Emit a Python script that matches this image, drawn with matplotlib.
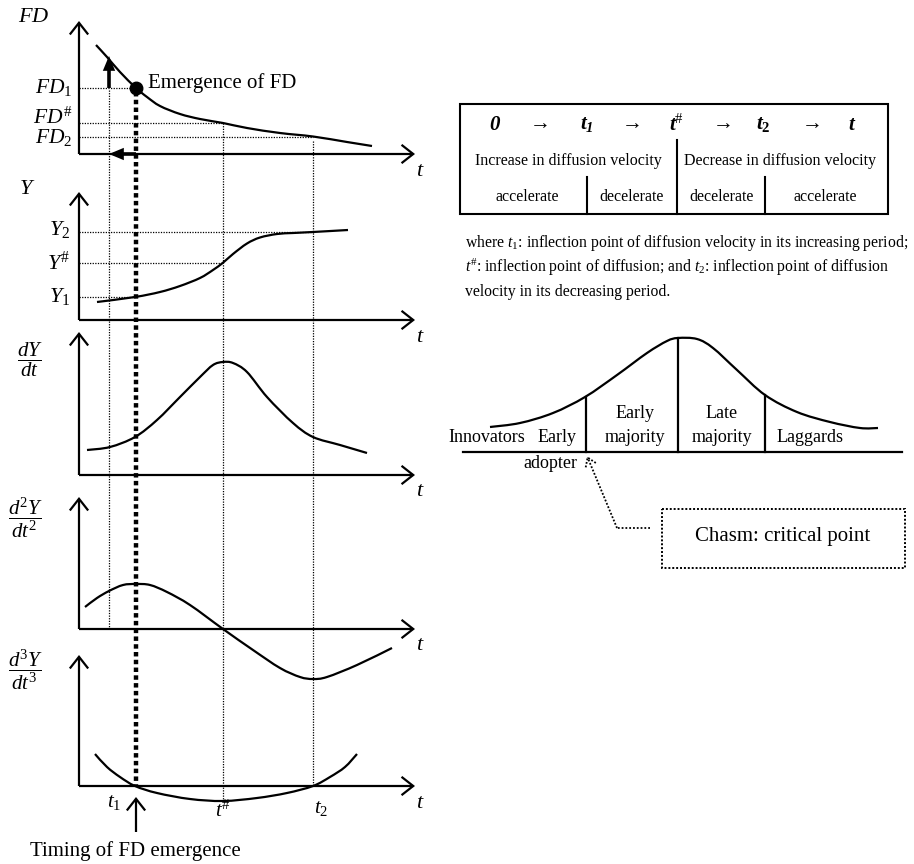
import numpy as np
import matplotlib.pyplot as plt
from matplotlib.patches import FancyArrowPatch, Rectangle, PathPatch
from matplotlib.path import Path

plt.rcParams['font.family'] = ['Liberation Serif', 'DejaVu Serif']
plt.rcParams['mathtext.fontset'] = 'custom'
plt.rcParams['mathtext.rm'] = 'Liberation Serif'
plt.rcParams['mathtext.it'] = 'Liberation Serif:italic'
plt.rcParams['mathtext.bf'] = 'Liberation Serif:bold'
plt.rcParams['mathtext.bfit'] = 'Liberation Serif:bold:italic'

# characteristic times on the common t scale
t_fd = 3.0      # where FD1 is reached
t_1 = 5.7       # inflection of velocity, increasing period
t_s = 14.4      # inflection of diffusion (t#)
t_2 = 23.4      # inflection of velocity, decreasing period
t_max = 33.6

# FD curve
fd_t = [1.7, 2.8, 4.1, 5.7, 6.8, 8.1, 10.1, 12.1, 14.4, 16.8, 20.1, 23.4, 26.8, 29.3]
fd_v = [10.9, 9.7, 8.2, 6.6, 5.7, 4.8, 4.0, 3.5, 3.1, 2.6, 2.1, 1.75, 1.2, 0.8]
fd_levels = {'FD1': 6.6, 'FDs': 3.1, 'FD2': 1.75}

# diffusion Y
y_t = [1.8, 5.6, 8.1, 10.1, 12.1, 13.4, 14.4, 15.4, 16.8, 18.1, 19.8, 21.4, 23.4, 26.9]
y_v = [1.8, 2.3, 2.8, 3.4, 4.2, 5.0, 5.73, 6.6, 7.65, 8.25, 8.6, 8.7, 8.8, 9.0]
y_levels = {'Y1': 2.3, 'Ys': 5.73, 'Y2': 8.8}

# dY/dt
dy_t = [0.8, 3.1, 5.6, 7.8, 10.1, 12.1, 13.4, 14.4, 15.4, 16.8, 18.8, 21.4, 23.4, 26.1, 28.8]
dy_v = [2.5, 2.8, 3.8, 5.5, 7.8, 9.8, 11.0, 11.3, 11.2, 10.3, 7.8, 5.2, 3.8, 3.0, 2.2]

# d2Y/dt2
d2_t = [0.6, 1.8, 3.0, 4.4, 5.7, 7.1, 8.8, 11.1, 14.4, 17.4, 20.1, 22.1, 23.4, 24.8, 27.8, 31.3]
d2_v = [2.2, 3.1, 3.8, 4.4, 4.5, 4.4, 3.7, 2.4, 0.0, -2.1, -3.9, -4.8, -5.0, -4.8, -3.6, -1.9]

# d3Y/dt3
d3_t = [1.6, 2.8, 4.1, 5.6, 7.8, 11.1, 14.4, 17.8, 20.8, 23.4, 25.1, 26.6, 27.8]
d3_v = [3.2, 1.9, 0.9, 0.0, -0.7, -1.3, -1.5, -1.2, -0.7, 0.0, 0.9, 1.9, 3.2]

# adopter distribution (bell curve)
bell_u = [2.7, 5.7, 9.0, 12.2, 15.4, 18.4, 20.4, 21.5, 23.4, 25.0, 27.4, 30.2, 33.4, 36.7, 39.7, 41.5]
bell_h = [2.5, 2.9, 3.9, 5.5, 7.7, 9.9, 11.1, 11.4, 11.3, 10.4, 8.2, 5.7, 4.0, 3.0, 2.4, 2.4]
bell_cuts = [12.3, 21.5, 30.2]
bell_cut_h = [5.5, 11.4, 5.7]

# panel layout (pixels)
X0 = 79
SC = 10
bases = [154, 320, 475, 629, 786]
tops = [21, 192, 332, 497, 655]

fig = plt.figure(figsize=(9.14, 8.64), dpi=100)
ax = fig.add_axes([0, 0, 1, 1])
ax.set_xlim(0, 914)
ax.set_ylim(864, 0)
ax.axis('off')


def px(t):
    return X0 + SC * np.asarray(t, dtype=float)


def py(v, k):
    return bases[k] - SC * np.asarray(v, dtype=float)


def smooth_curve(xs, ys, lw=1.6):
    # Catmull-Rom through the points, drawn as cubic Bezier segments
    p = np.column_stack([xs, ys])
    n = len(p)
    verts = [p[0]]
    codes = [Path.MOVETO]
    for i in range(n - 1):
        p0, p1 = p[max(i - 1, 0)], p[i]
        p2, p3 = p[i + 1], p[min(i + 2, n - 1)]
        verts += [p1 + (p2 - p0) / 6, p2 - (p3 - p1) / 6, p2]
        codes += [Path.CURVE4] * 3
    ax.add_patch(PathPatch(Path(verts, codes), fill=False, lw=lw, ec='k',
                           joinstyle='round', capstyle='butt'))


def arrow(p0, p1, style='->,head_length=0.7,head_width=0.55', lw=1.6, ms=12, ls='-'):
    a = FancyArrowPatch(p0, p1, arrowstyle=style, mutation_scale=ms, lw=lw,
                        color='k', shrinkA=0, shrinkB=0, linestyle=ls,
                        joinstyle='miter', capstyle='butt')
    ax.add_patch(a)


def dotted(xs, ys, lw=0.9):
    ax.plot(xs, ys, color='k', lw=lw, ls=(0, (1, 1.1)))


# axes for the five panels
for k in range(5):
    arrow((X0, bases[k]), (X0, tops[k]))
    arrow((X0, bases[k]), (px(t_max), bases[k]))

# guide lines to the level labels
dotted([X0, px(t_1)], [py(fd_levels['FD1'], 0)] * 2)
dotted([X0, px(t_s)], [py(fd_levels['FDs'], 0)] * 2)
dotted([X0, px(t_2)], [py(fd_levels['FD2'], 0)] * 2)
dotted([X0, px(t_1)], [py(y_levels['Y1'], 1)] * 2)
dotted([X0, px(t_s)], [py(y_levels['Ys'], 1)] * 2)
dotted([X0, px(t_2)], [py(y_levels['Y2'], 1)] * 2)

# vertical guides across panels
dotted([px(t_fd)] * 2, [py(fd_levels['FD1'], 0) + 2, bases[3]])
dotted([px(t_s)] * 2, [py(fd_levels['FDs'], 0), py(-1.5, 4)])
dotted([px(t_2)] * 2, [py(fd_levels['FD2'], 0) + 4, bases[4]])
ax.plot([px(t_1)] * 2, [py(fd_levels['FD1'], 0) + 4, bases[4]], color='k',
        lw=3.2, ls=(0, (1, 0.75)))

# curves
smooth_curve(px(fd_t), py(fd_v, 0))
smooth_curve(px(y_t), py(y_v, 1))
smooth_curve(px(dy_t), py(dy_v, 2))
smooth_curve(px(d2_t), py(d2_v, 3))
smooth_curve(px(d3_t), py(d3_v, 4))

# emergence of FD
ax.plot(px(t_1), py(fd_levels['FD1'], 0), 'o', color='k', ms=9)
ax.text(px(t_1) + 12, py(fd_levels['FD1'], 0), 'Emergence of FD', fontsize=15,
        ha='left', va='baseline')
arrow((px(t_fd), py(fd_levels['FD1'], 0)), (px(t_fd), py(9.8, 0)),
      style='-|>,head_length=0.6,head_width=0.25', lw=2.6, ms=10)
arrow((px(t_1), bases[0]), (px(t_fd), bases[0]),
      style='-|>,head_length=0.6,head_width=0.25', lw=2.6, ms=10)

# axis titles
ax.text(18, 17, '$FD$', fontsize=16, ha='left', va='center')
ax.text(19, 190, '$Y$', fontsize=16, ha='left', va='center')
ax.text(30, 360, r'$\dfrac{dY}{dt}$', fontsize=15, ha='center', va='center')
ax.text(26, 518, r'$\dfrac{d^2Y}{dt^2}$', fontsize=15, ha='center', va='center')
ax.text(26, 670, r'$\dfrac{d^3Y}{dt^3}$', fontsize=15, ha='center', va='center')
for k in range(5):
    ax.text(px(t_max) + 5, bases[k] + 17, '$t$', fontsize=16, ha='center', va='center')

# level labels
ax.text(72, 93, '$FD_1$', fontsize=15.5, ha='right', va='baseline')
ax.text(72, 124, r'$FD^{\#}$', fontsize=15.5, ha='right', va='baseline')
ax.text(72, 143, '$FD_2$', fontsize=15.5, ha='right', va='baseline')
ax.text(70, 235, '$Y_2$', fontsize=16, ha='right', va='baseline')
ax.text(70, 270, r'$Y^{\#}$', fontsize=16, ha='right', va='baseline')
ax.text(70, 302, '$Y_1$', fontsize=16, ha='right', va='baseline')

# time labels under the last panel
ax.text(px(t_1) - 22, 803, r'$t_{\mathrm{1}}$', fontsize=15, ha='center', va='center')
ax.text(px(t_s), 811, r'$t^{\#}$', fontsize=15, ha='center', va='center')
ax.text(px(t_2) + 8, 808, '$t_2$', fontsize=15, ha='center', va='center')
arrow((px(t_1), 832), (px(t_1), 797))
ax.text(30, 851, 'Timing of FD emergence', fontsize=15, ha='left', va='center')

# phase table
ax.add_patch(Rectangle((460, 104), 428, 110, fill=False, lw=1.5, ec='k'))
ax.plot([677, 677], [140, 214], color='k', lw=1.5)
ax.plot([587, 587], [177, 214], color='k', lw=1.5)
ax.plot([765, 765], [177, 214], color='k', lw=1.5)
head = [(495, r'$\mathbfit{0}$'), (540, '→'), (587, r'$\mathbfit{t}_{\mathbfit{1}}$'),
        (632, '→'), (677, r'$\mathbfit{t}^{\#}$'), (723, '→'),
        (763, r'$\mathbfit{t}_{\mathbf{2}}$'), (812, '→'), (852, r'$\mathbfit{t}$')]
for hx, s in head:
    ax.text(hx, 125, s, fontsize=15, ha='center', va='center')
ax.text(568, 161, 'Increase in diffusion velocity', fontsize=11.5, ha='center', va='center')
ax.text(780, 161, 'Decrease in diffusion velocity', fontsize=11.5, ha='center', va='center')
for cx, s in [(527, 'accelerate'), (632, 'decelerate'), (722, 'decelerate'), (825, 'accelerate')]:
    ax.text(cx, 197, s, fontsize=11.5, ha='center', va='center')

notes = ['where $t_1$: inflection point of diffusion velocity in its increasing period;',
         r'$t^{\#}$: inflection point of diffusion; and $t_2$: inflection point of diffusion',
         'velocity in its decreasing period.']
for i, s in enumerate(notes):
    ax.text(465, 243 + 24.5 * i, s, fontsize=11.3, ha='left', va='center')

# adopter categories
BX, BY = 463, 452
ax.plot([BX, 902], [BY, BY], color='k', lw=1.6)
smooth_curve(BX + SC * np.asarray(bell_u), BY - SC * np.asarray(bell_h))
for u, h in zip(bell_cuts, bell_cut_h):
    ax.plot([BX + SC * u] * 2, [BY - SC * h, BY], color='k', lw=1.6)
ax.text(487, 437, 'Innovators', fontsize=13, ha='center', va='center')
ax.text(557, 437, 'Early', fontsize=13, ha='center', va='center')
ax.text(550, 463, 'adopter', fontsize=13, ha='center', va='center')
ax.text(635, 413, 'Early', fontsize=13, ha='center', va='center')
ax.text(635, 437, 'majority', fontsize=13, ha='center', va='center')
ax.text(722, 413, 'Late', fontsize=13, ha='center', va='center')
ax.text(722, 437, 'majority', fontsize=13, ha='center', va='center')
ax.text(810, 437, 'Laggards', fontsize=13, ha='center', va='center')

# chasm callout
dotted([650, 617], [528, 528], lw=1.3)
arrow((617, 528), (BX + SC * bell_cuts[0] + 1, BY + 4),
      style='->,head_length=0.6,head_width=0.4', lw=1.3, ms=10, ls=(0, (1, 1)))
ax.add_patch(Rectangle((662, 509), 243, 59, fill=False, lw=1.4, ec='k',
                       ls=(0, (1, 1))))
ax.text(783, 537, 'Chasm: critical point', fontsize=15, ha='center', va='center')

fig.savefig('out.png', dpi=100)
